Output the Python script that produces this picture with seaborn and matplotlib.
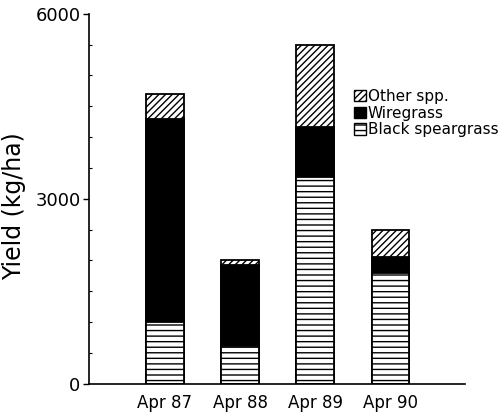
import matplotlib
matplotlib.use("Agg")
import matplotlib.pyplot as plt
import matplotlib.patches as mpatches
from matplotlib.ticker import MultipleLocator
import seaborn as sns
import pandas as pd

categories = ["Apr 87", "Apr 88", "Apr 89", "Apr 90"]
black_speargrass = [1000, 620, 3350, 1800]
wiregrass = [3300, 1310, 820, 250]
other_spp = [400, 70, 1330, 450]
series_names = ["Other spp.", "Wiregrass", "Black speargrass"]

sns.set_style("ticks", {"axes.edgecolor": "black", "text.color": "black",
                        "xtick.color": "black", "ytick.color": "black",
                        "axes.labelcolor": "black"})
plt.rcParams["font.family"] = ["DejaVu Sans"]
plt.rcParams["hatch.linewidth"] = 1.0

df = pd.DataFrame({
    "cat": categories,
    "spear": black_speargrass,
    "wire": wiregrass,
    "other": other_spp,
})
df["top_wire"] = df["spear"] + df["wire"]
df["top_other"] = df["top_wire"] + df["other"]

fig = plt.figure(figsize=(5.02, 4.19), dpi=100)
ax = fig.add_axes([0.177, 0.084, 0.749, 0.883])

common = dict(order=categories, width=0.5, edgecolor="black", linewidth=1.3, ax=ax)
sns.barplot(data=df, x="cat", y="top_other", color="white", hatch="/////", **common)
sns.barplot(data=df, x="cat", y="top_wire", color="black", **common)
sns.barplot(data=df, x="cat", y="spear", color="white", hatch="---", **common)

ax.set_xlim(-1.01, 3.99)
ax.set_ylim(0, 6000)
ax.set_yticks([0, 3000, 6000])
ax.yaxis.set_minor_locator(MultipleLocator(500))
ax.tick_params(axis="y", which="major", length=4, width=1, labelsize=13, pad=2, direction="out")
ax.tick_params(axis="y", which="minor", length=2, width=0.8, direction="in")
ax.tick_params(axis="x", length=0, labelsize=12, pad=7)
ax.set_xlabel("")
ax.set_ylabel("Yield (kg/ha)", fontsize=17)
ax.yaxis.set_label_coords(-0.168, 0.48)
sns.despine(ax=ax)
for s in ["left", "bottom"]:
    ax.spines[s].set_linewidth(1.2)

handles = [
    mpatches.Patch(facecolor="white", edgecolor="black", hatch="/////", label=series_names[0]),
    mpatches.Patch(facecolor="black", edgecolor="black", label=series_names[1]),
    mpatches.Patch(facecolor="white", edgecolor="black", hatch="---", label=series_names[2]),
]
fig.legend(handles=handles, loc="upper left", bbox_to_anchor=(0.705, 0.788),
           frameon=False, fontsize=11, handlelength=0.8, handleheight=0.8,
           handletextpad=0.1, labelspacing=0.12, borderpad=0, borderaxespad=0)

fig.savefig("out.png", dpi=100)
